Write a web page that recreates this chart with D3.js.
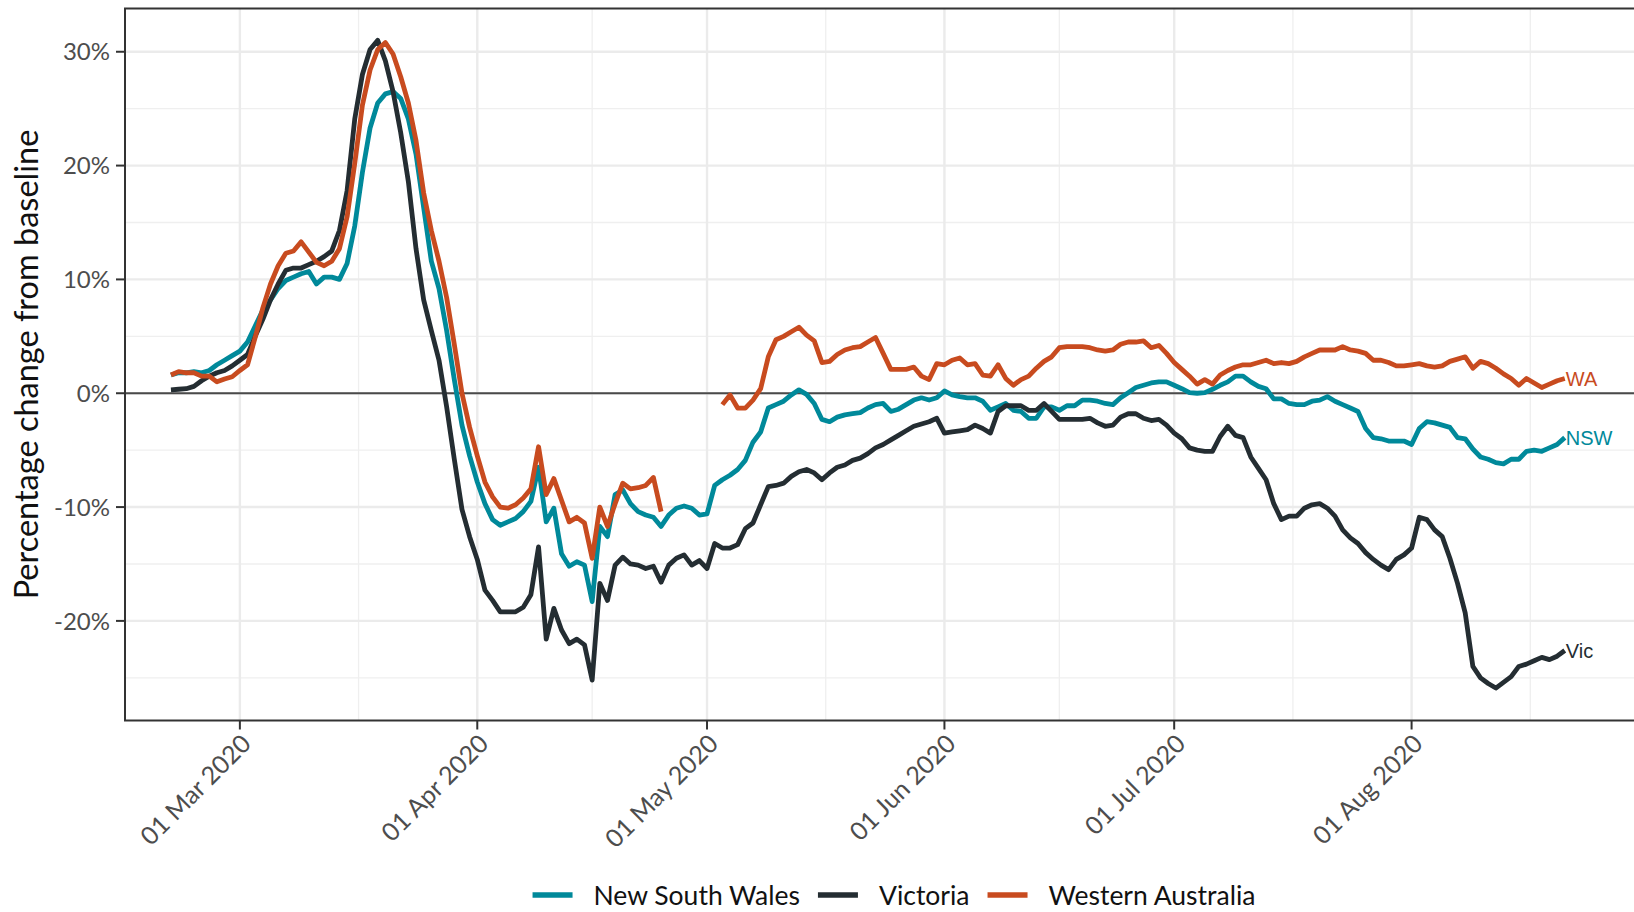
<!DOCTYPE html>
<html>
<head>
<meta charset="utf-8">
<script src="https://cdn.jsdelivr.net/npm/d3@7"></script>
<style>
body{
	margin: 0;
	background: #fff;
}
svg{
	display: block;
	font-family: Lato, "Open Sans", sans-serif;
}
</style>
</head>
<body>
<script>
// daily values, first day 21 Feb 2020, % change from baseline
var startDay = "2020-02-21";

var nsw = [
1.6,1.8,1.8,1.9,1.8,2.0,2.5,2.9,3.3,
3.7,4.5,5.9,7.3,8.2,9.2,9.9,10.2,10.5,10.7,
9.6,10.2,10.2,10.0,11.4,14.7,19.4,23.3,25.5,26.3,
26.5,25.9,24.1,21.0,16.3,11.6,9.2,5.5,1.2,-2.8,
-5.5,-7.8,-9.7,-11.1,-11.6,-11.3,-11.0,-10.4,-9.5,-6.5,
-11.3,-10.1,-14.1,-15.2,-14.8,-15.1,-18.3,-11.7,-12.6,-8.9,
-8.5,-9.7,-10.4,-10.7,-10.9,-11.7,-10.7,-10.1,-9.9,-10.1,
-10.7,-10.6,-8.1,-7.6,-7.2,-6.7,-5.9,-4.3,-3.4,-1.3,
-1.0,-0.7,-0.15,0.3,-0.1,-0.9,-2.3,-2.5,-2.1,-1.9,
-1.8,-1.7,-1.3,-1.0,-0.9,-1.6,-1.4,-1.0,-0.6,-0.4,
-0.6,-0.4,0.2,-0.15,-0.3,-0.4,-0.4,-0.7,-1.5,-1.2,
-0.9,-1.5,-1.6,-2.2,-2.2,-1.2,-1.2,-1.5,-1.1,-1.1,
-0.6,-0.6,-0.7,-0.9,-1.0,-0.4,0.05,0.5,0.7,0.9,
1.0,1.0,0.7,0.4,0.05,0.0,0.05,0.35,0.7,1.0,
1.5,1.5,1.0,0.6,0.4,-0.5,-0.5,-0.9,-1.0,-1.0,
-0.7,-0.6,-0.3,-0.7,-1.0,-1.3,-1.6,-3.1,-3.9,-4.0,
-4.2,-4.2,-4.2,-4.5,-3.1,-2.5,-2.6,-2.8,-3.0,-3.9,
-4.0,-4.9,-5.6,-5.8,-6.1,-6.2,-5.8,-5.8,-5.1,-5.0,
-5.1,-4.8,-4.5,-3.9
];

var vic = [
0.3,0.35,0.4,0.6,1.1,1.5,1.8,2.0,2.4,
2.9,3.4,5.0,6.5,8.2,9.6,10.8,11.0,11.0,11.3,
11.6,12.0,12.5,14.3,17.8,24.1,28.0,30.2,31.0,29.2,
26.5,22.9,18.6,12.7,8.2,5.5,2.9,-1.2,-5.8,-10.2,
-12.6,-14.6,-17.3,-18.2,-19.2,-19.2,-19.2,-18.8,-17.7,-13.5,
-21.6,-18.9,-20.8,-22.0,-21.6,-22.1,-25.2,-16.7,-18.2,-15.1,
-14.4,-15.0,-15.1,-15.4,-15.2,-16.6,-15.1,-14.5,-14.2,-15.1,
-14.7,-15.4,-13.2,-13.6,-13.6,-13.3,-11.9,-11.4,-9.8,-8.2,
-8.1,-7.9,-7.3,-6.9,-6.7,-7.0,-7.6,-7.0,-6.5,-6.3,
-5.9,-5.7,-5.3,-4.8,-4.5,-4.1,-3.7,-3.3,-2.9,-2.7,
-2.5,-2.2,-3.5,-3.4,-3.3,-3.2,-2.8,-3.1,-3.5,-1.6,
-1.1,-1.1,-1.1,-1.5,-1.5,-0.9,-1.6,-2.3,-2.3,-2.3,
-2.3,-2.2,-2.6,-2.9,-2.8,-2.1,-1.8,-1.8,-2.2,-2.4,
-2.3,-2.8,-3.5,-4.0,-4.8,-5.0,-5.1,-5.1,-3.8,-2.9,
-3.7,-3.9,-5.6,-6.6,-7.6,-9.7,-11.1,-10.8,-10.8,-10.1,
-9.8,-9.7,-10.1,-10.8,-12.0,-12.7,-13.2,-14.0,-14.6,-15.1,
-15.5,-14.6,-14.2,-13.6,-10.9,-11.1,-12.0,-12.6,-14.5,-16.7,
-19.3,-24.0,-25.0,-25.5,-25.9,-25.4,-24.9,-24.0,-23.8,-23.5,
-23.2,-23.4,-23.1,-22.6
];

// WA has no data for 26 Apr - 2 May
var wa = [
1.6,1.9,1.8,1.8,1.5,1.5,1.0,1.25,1.45,
2.0,2.5,4.9,7.5,9.6,11.2,12.3,12.5,13.3,12.4,
11.5,11.2,11.6,12.7,15.5,20.2,25.3,28.4,30.2,30.8,
29.8,27.8,25.5,22.2,17.6,14.3,11.6,8.4,4.3,0.0,
-3.0,-5.5,-7.8,-9.1,-10.0,-10.1,-9.8,-9.2,-8.4,-4.7,
-8.9,-7.5,-9.4,-11.3,-10.9,-11.4,-14.5,-10.0,-11.7,-9.7,
-7.9,-8.4,-8.3,-8.1,-7.4,-10.4,null,null,null,null,
null,null,null,-1.0,-0.15,-1.3,-1.3,-0.6,0.4,3.2,
4.7,5.0,5.4,5.8,5.1,4.6,2.7,2.8,3.4,3.8,
4.0,4.1,4.5,4.9,3.5,2.1,2.1,2.1,2.3,1.5,
1.2,2.6,2.5,2.9,3.1,2.5,2.6,1.6,1.5,2.5,
1.3,0.7,1.2,1.5,2.2,2.8,3.2,4.0,4.1,4.1,
4.1,4.0,3.8,3.7,3.8,4.3,4.5,4.5,4.6,4.0,
4.2,3.5,2.7,2.1,1.5,0.8,1.2,0.8,1.6,2.0,
2.3,2.5,2.5,2.7,2.9,2.6,2.7,2.6,2.8,3.2,
3.5,3.8,3.8,3.8,4.1,3.8,3.7,3.5,2.9,2.9,
2.7,2.4,2.4,2.5,2.6,2.4,2.3,2.4,2.8,3.0,
3.2,2.2,2.8,2.6,2.2,1.7,1.3,0.7,1.3,0.9,
0.5,0.8,1.1,1.3
];

var seriesNames = ["New South Wales", "Victoria", "Western Australia"];
var shortNames = ["NSW", "Vic", "WA"];
var seriesColours = ["#00899A", "#242D32", "#C84B1F"];

var monthTicks = ["2020-03-01", "2020-04-01", "2020-05-01", "2020-06-01", "2020-07-01", "2020-08-01", "2020-09-01"];
var yTicks = [-20, -10, 0, 10, 20, 30];
var yMinor = [-25, -15, -5, 5, 15, 25];

var width = 1634, height = 912;
var panel = {left: 125, top: 8.5, right: 1649, bottom: 720.5};

var parse = d3.utcParse("%Y-%m-%d");
var start = parse(startDay);
var dates = vic.map(function(v, i) { return d3.utcDay.offset(start, i); });
var tickDates = monthTicks.map(parse);

var x = d3.scaleUtc()
	.domain([parse("2020-02-15"), parse("2020-09-01")])
	.range([panel.left, panel.right]);
var y = d3.scaleLinear()
	.domain([-28.75, 33.8])
	.range([panel.bottom, panel.top]);

var svg = d3.select("body").append("svg")
	.attr("width", width)
	.attr("height", height);

svg.append("clipPath").attr("id", "clip")
	.append("rect")
	.attr("x", panel.left).attr("y", panel.top)
	.attr("width", panel.right - panel.left)
	.attr("height", panel.bottom - panel.top);

var grid = svg.append("g").attr("clip-path", "url(#clip)");

// minor grid: halfway between the majors
var xMinor = [];
for (var i = 0; i < tickDates.length - 1; i++) {
	xMinor.push((x(tickDates[i]) + x(tickDates[i + 1])) / 2);
}
grid.selectAll(".xminor").data(xMinor).enter().append("line")
	.attr("x1", function(d) { return d; }).attr("x2", function(d) { return d; })
	.attr("y1", panel.top).attr("y2", panel.bottom)
	.attr("stroke", "#EFEFEF").attr("stroke-width", 1.3);
grid.selectAll(".yminor").data(yMinor).enter().append("line")
	.attr("x1", panel.left).attr("x2", panel.right)
	.attr("y1", function(d) { return y(d); }).attr("y2", function(d) { return y(d); })
	.attr("stroke", "#EFEFEF").attr("stroke-width", 1.3);

grid.selectAll(".xmajor").data(tickDates).enter().append("line")
	.attr("x1", function(d) { return x(d); }).attr("x2", function(d) { return x(d); })
	.attr("y1", panel.top).attr("y2", panel.bottom)
	.attr("stroke", "#EBEBEB").attr("stroke-width", 2.4);
grid.selectAll(".ymajor").data(yTicks).enter().append("line")
	.attr("x1", panel.left).attr("x2", panel.right)
	.attr("y1", function(d) { return y(d); }).attr("y2", function(d) { return y(d); })
	.attr("stroke", "#EBEBEB").attr("stroke-width", 2.4);

// zero line
grid.append("line")
	.attr("x1", panel.left).attr("x2", panel.right)
	.attr("y1", y(0)).attr("y2", y(0))
	.attr("stroke", "#4A4A4A").attr("stroke-width", 2.2);

var line = d3.line()
	.defined(function(d) { return d.v != null; })
	.x(function(d) { return x(d.date); })
	.y(function(d) { return y(d.v); });

var allSeries = [nsw, vic, wa];
allSeries.forEach(function(values, k) {
	var pts = values.map(function(v, i) { return {date: dates[i], v: v}; });
	grid.append("path")
		.datum(pts)
		.attr("d", line)
		.attr("fill", "none")
		.attr("stroke", seriesColours[k])
		.attr("stroke-width", 4.8)
		.attr("stroke-linejoin", "round");
	// end label
	var last = pts[pts.length - 1];
	svg.append("text")
		.attr("x", x(last.date) + 1)
		.attr("y", y(last.v))
		.attr("dy", "0.36em")
		.attr("font-family", "'Liberation Sans', Arial, sans-serif")
		.attr("font-size", 20)
		.attr("fill", seriesColours[k])
		.text(shortNames[k]);
});

// panel border
svg.append("rect")
	.attr("x", panel.left).attr("y", panel.top)
	.attr("width", panel.right - panel.left)
	.attr("height", panel.bottom - panel.top)
	.attr("fill", "none")
	.attr("stroke", "#333333").attr("stroke-width", 2);

// y axis
var yAxis = svg.append("g");
yAxis.selectAll("line").data(yTicks).enter().append("line")
	.attr("x1", panel.left - 9).attr("x2", panel.left)
	.attr("y1", function(d) { return y(d); }).attr("y2", function(d) { return y(d); })
	.attr("stroke", "#333333").attr("stroke-width", 2);
yAxis.selectAll("text").data(yTicks).enter().append("text")
	.attr("x", 110)
	.attr("y", function(d) { return y(d); })
	.attr("dy", "0.36em")
	.attr("text-anchor", "end")
	.attr("font-size", 24)
	.attr("fill", "#4D4D4D")
	.text(function(d) { return d + "%"; });

svg.append("text")
	.attr("transform", "translate(26," + ((panel.top + panel.bottom) / 2) + ") rotate(-90)")
	.attr("dy", "0.36em")
	.attr("text-anchor", "middle")
	.attr("font-size", 32.5)
	.attr("fill", "#111")
	.text("Percentage change from baseline");

// x axis
var fmt = d3.utcFormat("%d %b %Y");
var xTicks = tickDates.filter(function(d) { return x(d) < width; });
var xAxis = svg.append("g");
xAxis.selectAll("line").data(xTicks).enter().append("line")
	.attr("x1", function(d) { return x(d); }).attr("x2", function(d) { return x(d); })
	.attr("y1", panel.bottom).attr("y2", panel.bottom + 9)
	.attr("stroke", "#333333").attr("stroke-width", 2);
xAxis.selectAll("text").data(xTicks).enter().append("text")
	.attr("transform", function(d) { return "translate(" + x(d) + "," + (panel.bottom + 12) + ") rotate(-45)"; })
	.attr("dy", "0.72em")
	.attr("text-anchor", "end")
	.attr("font-size", 25)
	.attr("fill", "#4D4D4D")
	.text(function(d) { return fmt(d); });

// legend, centred under the chart
var legend = svg.append("g");
var legendY = 895;
var cx = 0;
seriesNames.forEach(function(name, k) {
	var g = legend.append("g");
	g.append("line")
		.attr("x1", cx).attr("x2", cx + 40)
		.attr("y1", legendY).attr("y2", legendY)
		.attr("stroke", seriesColours[k]).attr("stroke-width", 5.5);
	var t = g.append("text")
		.attr("x", cx + 61)
		.attr("y", legendY)
		.attr("dy", "0.36em")
		.attr("font-size", 26.5)
		.attr("fill", "#111")
		.text(name);
	cx = cx + 61 + t.node().getComputedTextLength() + 18;
});
var legendWidth = cx - 18;
legend.attr("transform", "translate(" + (894 - legendWidth / 2) + ",0)");
</script>
</body>
</html>
